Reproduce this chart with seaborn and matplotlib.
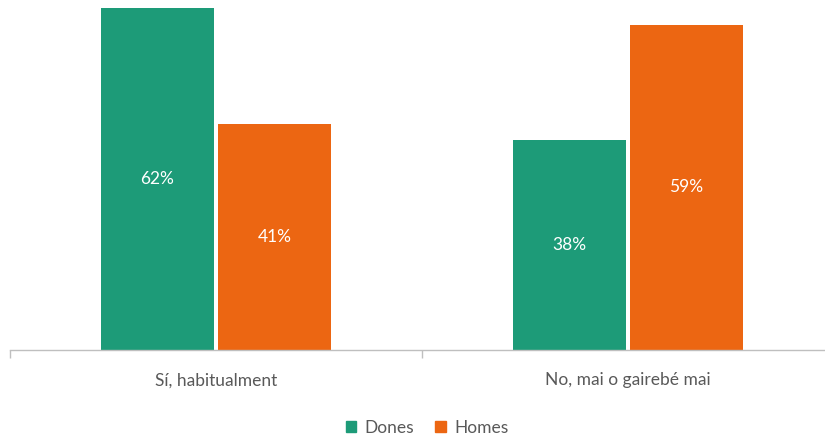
import pandas as pd
import matplotlib.pyplot as plt
import seaborn as sns

# data
categories = ['Sí, habitualment', 'No, mai o gairebé mai']
dones = [62, 38]
homes = [41, 59]
series = ['Dones', 'Homes']
colors = ['#1d9b78', '#ec6612']

df = pd.DataFrame({
    'cat': categories * 2,
    'val': dones + homes,
    'grup': ['Dones'] * 2 + ['Homes'] * 2,
})

sns.set_style("white")
plt.rcParams['font.family'] = ['Lato', 'DejaVu Sans']

fig = plt.figure(figsize=(8.25, 4.41), dpi=100)
# axis runs off the right edge, like the original
ax = fig.add_axes([10 / 825, 91 / 441, 824 / 825, 342 / 441])

sns.barplot(data=df, x='cat', y='val', hue='grup', hue_order=series,
            palette=colors, saturation=1, width=0.568, gap=0.035,
            linewidth=0, ax=ax, legend=False)

for cont in ax.containers:
    ax.bar_label(cont, labels=[f'{v:.0f}%' for v in cont.datavalues],
                 label_type='center', color='white', fontsize=12.5)

ax.set_xlim(-0.5, 1.5)
ax.set_ylim(0, 62)
ax.set_xlabel('')
ax.set_ylabel('')
ax.set_yticks([])
for s in ['top', 'right', 'left']:
    ax.spines[s].set_visible(False)
ax.spines['bottom'].set_color('#bfbfbf')
ax.spines['bottom'].set_linewidth(1)

ax.tick_params(axis='x', which='major', bottom=False, length=0, pad=16,
               labelsize=12.5, labelcolor='#595959')
ax.set_xticks([-0.5, 0.5, 1.5], minor=True)
ax.tick_params(axis='x', which='minor', bottom=True, length=6, color='#bfbfbf', width=1)

handles = [plt.Rectangle((0, 0), 1, 1, color=c) for c in colors]
fig.legend(handles, series, loc='center', bbox_to_anchor=(427 / 825, 1 - 428 / 441),
           ncol=2, frameon=False, fontsize=12.5, labelcolor='#595959',
           handlelength=0.6, handleheight=0.6, handletextpad=0.5, columnspacing=1.2)

plt.savefig('out.png', dpi=100)
